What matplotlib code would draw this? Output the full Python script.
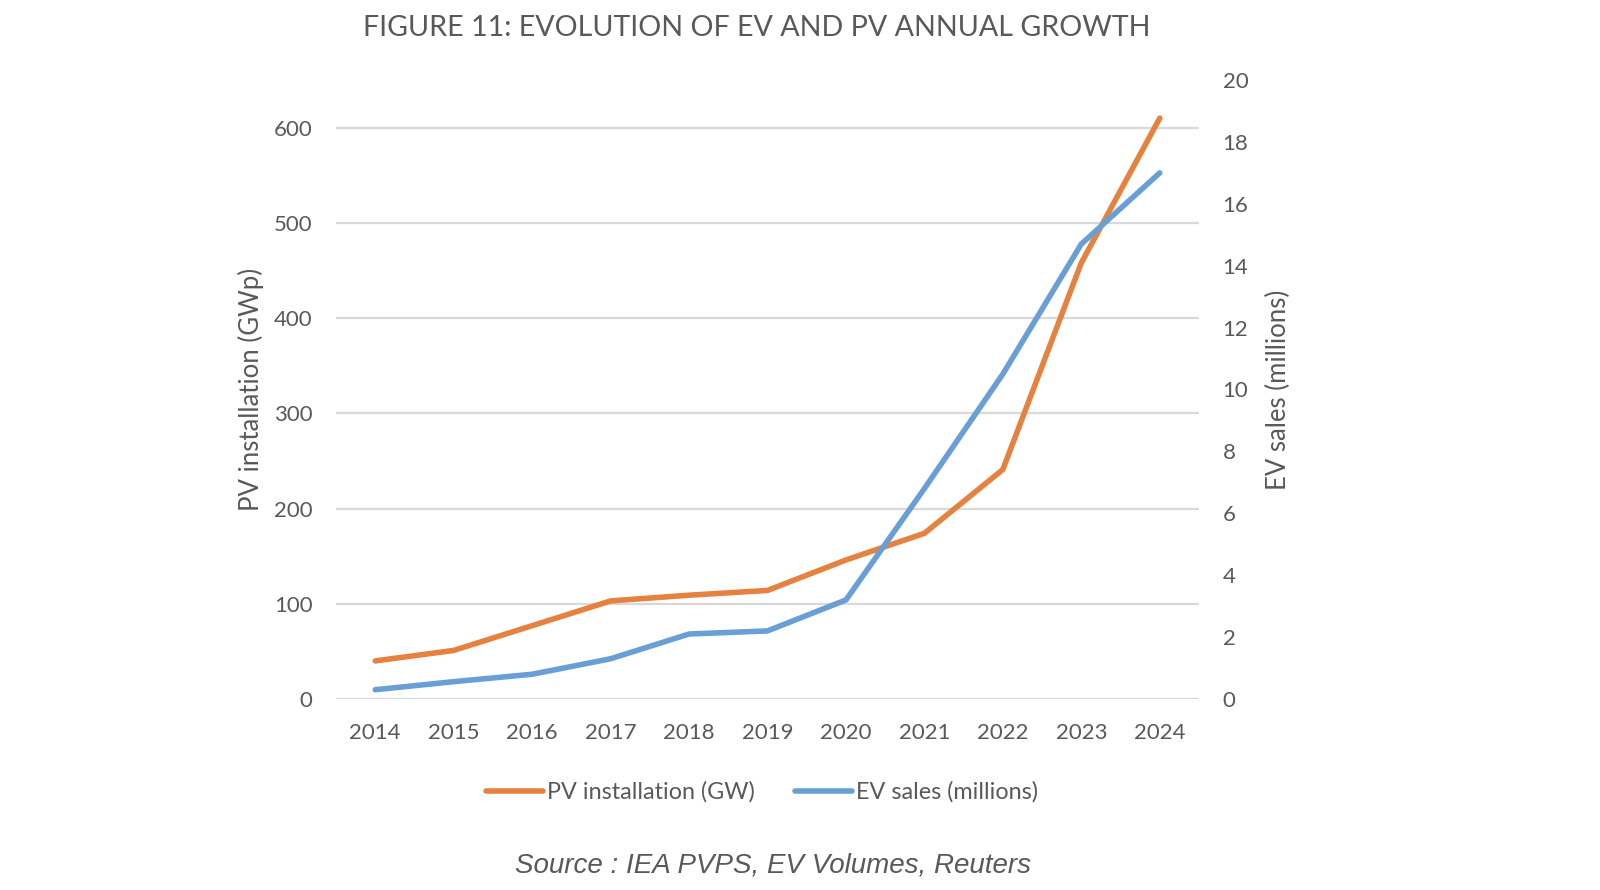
import matplotlib
matplotlib.use("Agg")
import matplotlib.pyplot as plt

years = ["2014", "2015", "2016", "2017", "2018", "2019", "2020", "2021", "2022", "2023", "2024"]
pv_gw = [40, 51, 77, 103, 109, 114, 146, 174, 241, 458, 610]
ev_millions = [0.3, 0.56, 0.8, 1.3, 2.1, 2.2, 3.2, 6.8, 10.5, 14.7, 17.0]
left_ticks = [0, 100, 200, 300, 400, 500, 600]
right_ticks = [0, 2, 4, 6, 8, 10, 12, 14, 16, 18, 20]

plt.rcParams['font.family'] = ['Lato', 'DejaVu Sans']
TXT = '#595959'
ORANGE = '#E6823F'
BLUE = '#6A9FD6'

fig = plt.figure(figsize=(16, 8.9), dpi=100)
ax = fig.add_axes([336/1600, 1-699/890, (1199-336)/1600, (699-80)/890])
ax2 = ax.twinx()

x = list(range(len(years)))
l1, = ax.plot(x, pv_gw, color=ORANGE, lw=4, solid_capstyle='round', solid_joinstyle='round', zorder=3,
              label='PV installation (GW)')
l2, = ax2.plot(x, ev_millions, color=BLUE, lw=4, solid_capstyle='round', solid_joinstyle='round', zorder=3,
               label='EV sales (millions)')

ax.set_xlim(-0.5, len(years) - 0.5)
ax.set_ylim(0, 650)
ax2.set_ylim(0, 20)
ax.set_yticks(left_ticks)
ax2.set_yticks(right_ticks)
ax.set_xticks(x)
ax.set_xticklabels(years)

ax.grid(axis='y', color='#D9D9D9', lw=1.6, zorder=0)
ax.set_axisbelow(True)
for a in (ax, ax2):
    for s in a.spines.values():
        s.set_visible(False)
ax.tick_params(axis='y', length=0, pad=17, labelsize=16, labelcolor=TXT)
ax.tick_params(axis='x', length=0, pad=17, labelsize=16, labelcolor=TXT)
ax2.tick_params(axis='y', length=0, pad=17, labelsize=16, labelcolor=TXT)

fig.text(251/1600, 1-(80+699)/2/890, 'PV installation (GWp)', rotation=90, ha='center', va='center',
         fontsize=18.5, color=TXT)
fig.text(1278/1600, 1-(80+699)/2/890, 'EV sales (millions)', rotation=90, ha='center', va='center',
         fontsize=18.5, color=TXT)

fig.text(757/1600, 1-28/890, 'FIGURE 11: EVOLUTION OF EV AND PV ANNUAL GROWTH',
         ha='center', va='center', fontsize=20.6, color=TXT)

fig.legend(handles=[l1, l2], loc='center', bbox_to_anchor=(762/1600, 1-792/890), ncol=2,
           frameon=False, fontsize=16.8, handlelength=2.45, handletextpad=0.15, columnspacing=1.75,
           labelcolor=TXT)

fig.text(773/1600, 1-866/890, 'Source : IEA PVPS, EV Volumes, Reuters', ha='center', va='center',
         fontsize=20.0, style='italic', family=['Liberation Sans', 'DejaVu Sans'], color=TXT)

fig.savefig('out.png', dpi=100, facecolor='white')
